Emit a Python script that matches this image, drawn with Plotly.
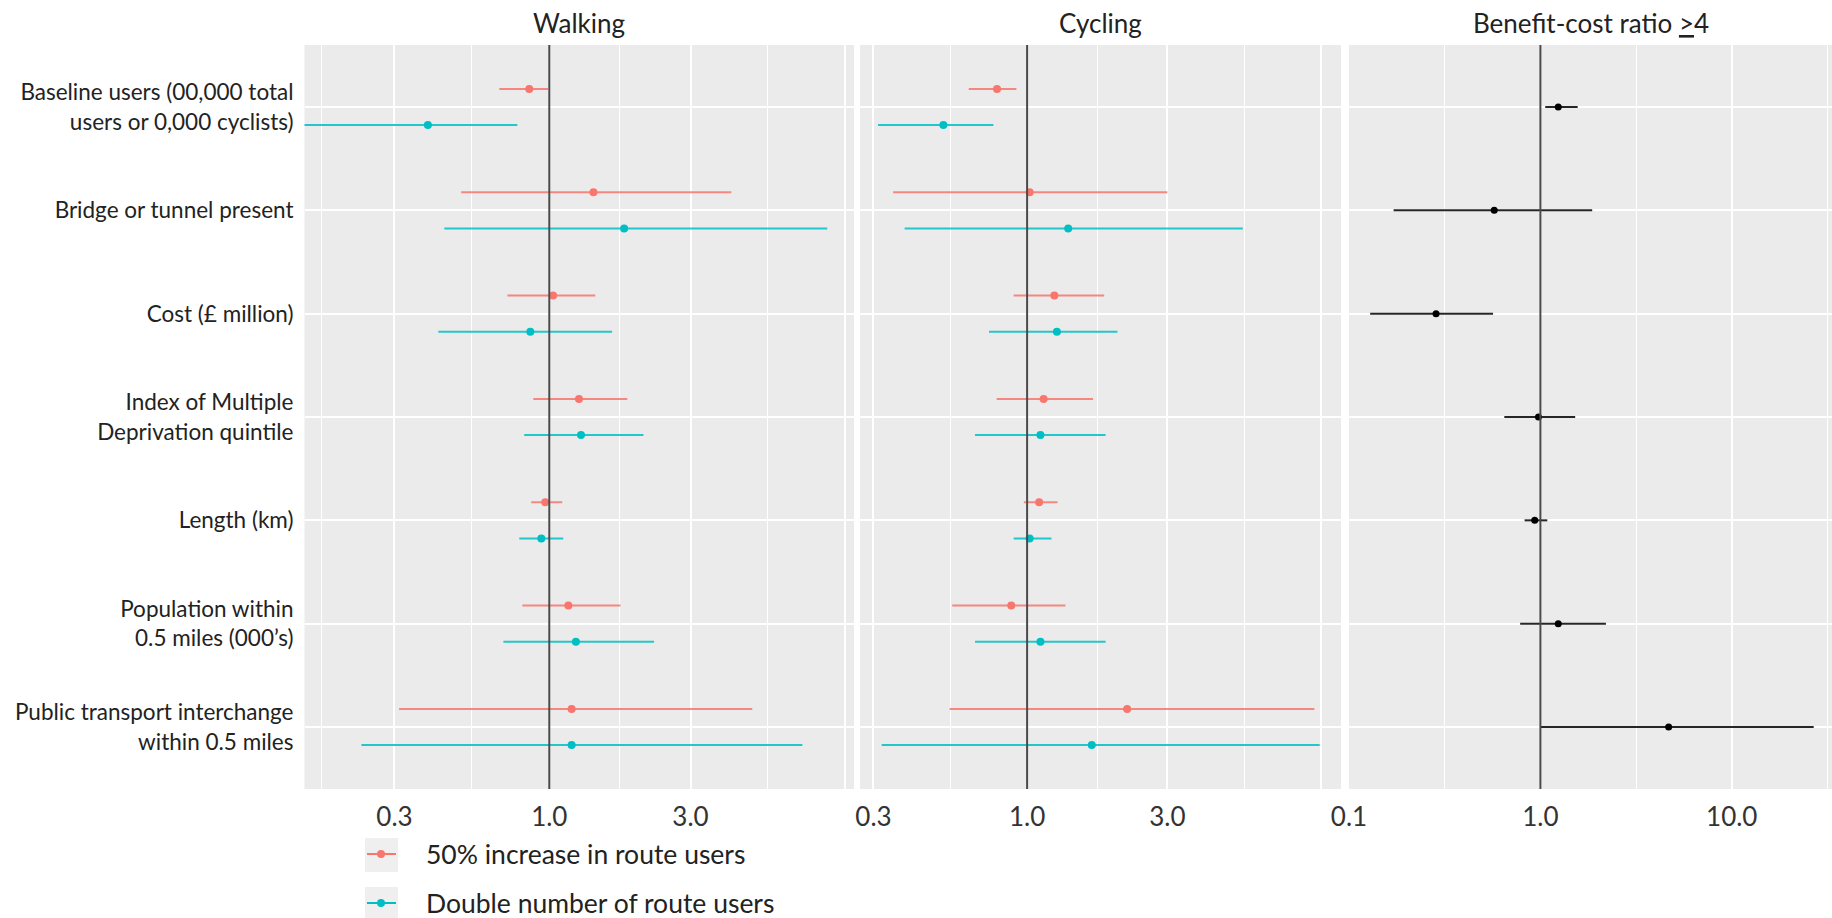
import math
import plotly.graph_objects as go

# ---------------- data ----------------
categories = [
    "Baseline users (00,000 total<br>users or 0,000 cyclists)",
    "Bridge or tunnel present",
    "Cost (£ million)",
    "Index of Multiple<br>Deprivation quintile",
    "Length (km)",
    "Population within<br>0.5 miles (000’s)",
    "Public transport interchange<br>within 0.5 miles",
]
panel_titles = ["Walking", "Cycling", "Benefit-cost ratio <u>></u>4"]
series_names = ["50% increase in route users", "Double number of route users"]

walk_50_est = [0.856, 1.41, 1.03, 1.26, 0.969, 1.16, 1.19]
walk_50_lo = [0.678, 0.504, 0.722, 0.883, 0.869, 0.811, 0.311]
walk_50_hi = [0.99, 4.12, 1.43, 1.835, 1.106, 1.74, 4.85]
walk_2x_est = [0.389, 1.79, 0.863, 1.28, 0.94, 1.23, 1.19]
walk_2x_lo = [0.13, 0.442, 0.422, 0.823, 0.792, 0.70, 0.232]
walk_2x_hi = [0.78, 8.69, 1.63, 2.08, 1.115, 2.26, 7.16]

cyc_50_est = [0.79, 1.02, 1.238, 1.138, 1.099, 0.883, 2.19]
cyc_50_lo = [0.633, 0.35, 0.90, 0.788, 0.975, 0.556, 0.545]
cyc_50_hi = [0.92, 3.0, 1.83, 1.677, 1.27, 1.35, 9.5]
cyc_2x_est = [0.519, 1.38, 1.263, 1.11, 1.02, 1.11, 1.66]
cyc_2x_lo = [0.311, 0.383, 0.742, 0.665, 0.90, 0.665, 0.32]
cyc_2x_hi = [0.768, 5.42, 2.03, 1.85, 1.21, 1.85, 9.9]

bcr_est = [1.24, 0.574, 0.285, 0.977, 0.934, 1.24, 4.68]
bcr_lo = [1.06, 0.171, 0.129, 0.648, 0.827, 0.784, 1.0]
bcr_hi = [1.566, 1.865, 0.566, 1.52, 1.087, 2.20, 26.8]

major_ticks_wc = [0.3, 1, 3, 10]
major_text_wc = ["0.3", "1.0", "3.0", ""]
major_ticks_b = [0.1, 1, 10]
major_text_b = ["0.1", "1.0", "10.0"]

# ---------------- style ----------------
RED = "#F8766D"
CYAN = "#00BFC4"
RED_L = "rgba(248,118,109,0.85)"
CYAN_L = "rgba(0,191,196,0.85)"
PANEL_BG = "#EBEBEB"
FONT = "Lato"
W, H = 1832, 918
DODGE = 0.175

n = len(categories)
ypos = [n - i for i in range(n)]  # top category highest


def px_x(v):
    return v / W


def px_y(v):
    return 1 - v / H


fig = go.Figure()


def add_ci(xs_lo, xs_est, xs_hi, yshift, color_line, color_pt, xa, ya, name, lw=2, ms=8):
    lx, ly = [], []
    for lo, hi, y in zip(xs_lo, xs_hi, ypos):
        lx += [lo, hi, None]
        ly += [y + yshift, y + yshift, None]
    fig.add_trace(go.Scatter(x=lx, y=ly, mode="lines", line=dict(color=color_line, width=lw),
                             xaxis=xa, yaxis=ya, showlegend=False, hoverinfo="skip", name=name))
    fig.add_trace(go.Scatter(x=xs_est, y=[y + yshift for y in ypos], mode="markers",
                             marker=dict(color=color_pt, size=ms), xaxis=xa, yaxis=ya,
                             showlegend=False, name=name))


add_ci(walk_50_lo, walk_50_est, walk_50_hi, DODGE, RED_L, RED, "x", "y", series_names[0])
add_ci(walk_2x_lo, walk_2x_est, walk_2x_hi, -DODGE, CYAN_L, CYAN, "x", "y", series_names[1])
add_ci(cyc_50_lo, cyc_50_est, cyc_50_hi, DODGE, RED_L, RED, "x2", "y2", series_names[0])
add_ci(cyc_2x_lo, cyc_2x_est, cyc_2x_hi, -DODGE, CYAN_L, CYAN, "x2", "y2", series_names[1])
add_ci(bcr_lo, bcr_est, bcr_hi, 0, "rgba(0,0,0,0.85)", "black", "x3", "y3",
       "Benefit-cost ratio ≥4", lw=2, ms=7)

ydom = [px_y(789), px_y(45)]
yr = [0.4, n + 0.6]

common_x = dict(type="log", showgrid=True, gridcolor="white", gridwidth=1.6, zeroline=False,
                showline=False, ticks="", tickfont=dict(family=FONT, size=26, color="#333333"),
                ticklabelstandoff=10, automargin=False)
common_y = dict(range=yr, tickvals=ypos, showgrid=True, gridcolor="white", gridwidth=2,
                zeroline=False, showline=False, ticks="", automargin=False)

fig.update_layout(
    width=W, height=H, margin=dict(l=0, r=0, t=0, b=0, autoexpand=False),
    paper_bgcolor="white", plot_bgcolor=PANEL_BG,
    font=dict(family=FONT, color="#222222"),
    showlegend=False,
    xaxis=dict(common_x, domain=[px_x(304.5), px_x(854)], anchor="y",
               range=[math.log10(0.149), math.log10(10.7)],
               tickvals=major_ticks_wc, ticktext=major_text_wc,
               minor=dict(tickvals=[0.17, 0.548, 1.732, 5.477], showgrid=True,
                          gridcolor="white", gridwidth=1, ticks="")),
    xaxis2=dict(common_x, domain=[px_x(860), px_x(1341)], anchor="y2",
                range=[math.log10(0.27), math.log10(11.7)],
                tickvals=major_ticks_wc, ticktext=major_text_wc,
                minor=dict(tickvals=[0.17, 0.548, 1.732, 5.477], showgrid=True,
                           gridcolor="white", gridwidth=1, ticks="")),
    xaxis3=dict(common_x, domain=[px_x(1349), 1.0], anchor="y3",
                range=[math.log10(0.1), math.log10(33.4)],
                tickvals=major_ticks_b, ticktext=major_text_b,
                minor=dict(tickvals=[0.316, 3.162, 31.62], showgrid=True,
                           gridcolor="white", gridwidth=1, ticks="")),
    yaxis=dict(common_y, domain=ydom, anchor="x", ticktext=categories,
               tickfont=dict(family=FONT, size=22.5, color="#222222"), ticklabelstandoff=10),
    yaxis2=dict(common_y, domain=ydom, anchor="x2", showticklabels=False),
    yaxis3=dict(common_y, domain=ydom, anchor="x3", showticklabels=False),
)

# vertical reference lines at 1
for xa, ya in [("x", "y"), ("x2", "y2"), ("x3", "y3")]:
    fig.add_shape(type="line", xref=xa, yref=f"{ya} domain", x0=1, x1=1, y0=0, y1=1,
                  line=dict(color="#4a4a4a", width=2), layer="above")

# legend (drawn manually to match the ggplot key layout)
legend_rows = [(838, 872, 854), (887, 918, 903)]
for (y0, y1, yc), name, col in zip(legend_rows, series_names, [RED, CYAN]):
    fig.add_shape(type="rect", xref="paper", yref="paper", x0=px_x(365), x1=px_x(398),
                  y0=px_y(y1), y1=px_y(y0), fillcolor="#EFEFEF", line=dict(width=0),
                  layer="below")
    fig.add_shape(type="line", xref="paper", yref="paper", x0=px_x(367), x1=px_x(396),
                  y0=px_y(yc), y1=px_y(yc), line=dict(color=col, width=2))
    fig.add_shape(type="circle", xref="paper", yref="paper", x0=px_x(377), x1=px_x(385),
                  y0=px_y(yc + 4), y1=px_y(yc - 4), fillcolor=col, line=dict(width=0))
    fig.add_annotation(text=name, x=px_x(424), y=px_y(yc), xref="paper", yref="paper",
                       showarrow=False, xanchor="left", yanchor="middle",
                       font=dict(family=FONT, size=26.5, color="#222222"))

# panel titles
centers = [(304.5 + 854) / 2, (860 + 1341) / 2, (1349 + 1832) / 2]
for cx, t in zip(centers, panel_titles):
    fig.add_annotation(text=t, x=px_x(cx), y=px_y(23), xref="paper", yref="paper",
                       showarrow=False, xanchor="center", yanchor="middle",
                       font=dict(family=FONT, size=26, color="#222222"))

fig.write_html("out.html", config={"displayModeBar": False},
               post_script="document.body.style.margin='0';document.body.style.overflow='hidden';")
